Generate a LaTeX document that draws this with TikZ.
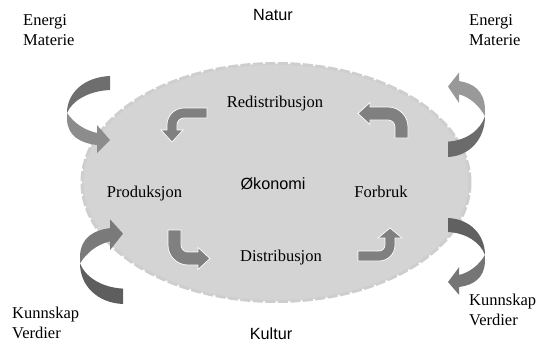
\documentclass[tikz,border=0pt]{standalone}
\usepackage{fontspec}
\setmainfont{Liberation Serif}
\newfontfamily\sansf{Liberation Sans}
\definecolor{ellfill}{RGB}{212,212,212}
\definecolor{elldraw}{RGB}{206,206,206}
\definecolor{smallfill}{RGB}{128,128,128}
\newcommand\bentarr[6]{% a w b hl h R
  \filldraw[smallarr] ({-#1},0) -- ({-#6},0)
    .. controls ({-0.448*#6},0) and (0,{0.448*#6}) .. (0,{#6})
    -- (0,{#3}) -- ({-#2/2+#5},{#3}) -- ({-#2/2},{#3+#4}) -- ({-#2/2-#5},{#3})
    -- ({-#2},{#3}) -- ({-#2},{#6})
    .. controls ({-#2},{#6-0.552*(#6-#2)}) and ({-#6+0.552*(#6-#2)},{#2}) .. ({-#6},{#2})
    -- ({-#1},{#2}) -- cycle;}
\newcommand\bigarr[2]{% tail colour, head colour
  \fill[#1] (0,0) .. controls (-26,1) and (-43,17) .. (-43,37)
    .. controls (-38,25) and (-22,15) .. (0,14) -- cycle;
  \fill[#2] (-43,37) .. controls (-36,47) and (-26,54) .. (-13,57)
    -- (-13,49) -- (0,64) -- (-13,77) -- (-13,69)
    .. controls (-30,67) and (-42,60) .. (-43,44) -- cycle;}
\tikzset{
  smallarr/.style={fill=smallfill, draw=white, line width=0.7pt, line join=miter},
  serif/.style={font=\fontsize{16.5}{19.5}\selectfont, inner sep=0pt},
  sanslab/.style={font=\sansf\fontsize{16.2}{19}\selectfont, inner sep=0pt},
  multi/.style={serif, align=left, anchor=base west}
}
\begin{document}
\begin{tikzpicture}[x=1pt,y=-1pt]
\useasboundingbox (0,0) rectangle (539,359);
% ellipse
\draw[fill=ellfill, draw=elldraw, line width=3pt, dash pattern=on 10pt off 2.5pt]
  (276,182.5) ellipse [x radius=194pt, y radius=119pt];
% big curved arrows
\begin{scope}[shift={(110,76)}]\bigarr{black!57}{black!45}\end{scope}
\begin{scope}[shift={(448,157)}]\begin{scope}[xscale=-0.86,yscale=-1.1]\bigarr{black!58}{black!40}\end{scope}\end{scope}
\begin{scope}[shift={(123,304)}]\begin{scope}[yscale=-1.1]\bigarr{black!63}{black!52}\end{scope}\end{scope}
\begin{scope}[shift={(448,218)}]\begin{scope}[xscale=-0.86]\bigarr{black!62}{black!54}\end{scope}\end{scope}
% small bent arrows
\begin{scope}[shift={(167,108)}]\begin{scope}[xscale=-1]\bentarr{40}{10}{22}{12}{11}{17}\end{scope}\end{scope}
\begin{scope}[shift={(408,107)}]\begin{scope}[cm={0,1,1,0,(0,0)}]\bentarr{31}{13}{38}{12}{11}{20}\end{scope}\end{scope}
\begin{scope}[shift={(168,265)}]\begin{scope}[cm={0,-1,-1,0,(0,0)}]\bentarr{35}{13}{30}{12}{11}{20}\end{scope}\end{scope}
\begin{scope}[shift={(395,261)}]\begin{scope}[yscale=-1]\bentarr{37}{10}{23}{10}{12}{16}\end{scope}\end{scope}
% labels
\node[sanslab, anchor=base] (natur) at (273,20) {Natur};
\node[sanslab, anchor=base] (kultur) at (271,339) {Kultur};
\node[sanslab, anchor=base] (okonomi) at (273,189) {Økonomi};
\node[serif, anchor=base] (redis) at (275,107) {Redistribusjon};
\node[serif, anchor=base] (prod) at (144.5,197) {Produksjon};
\node[serif, anchor=base] (forb) at (381,197) {Forbruk};
\node[serif, anchor=base] (dist) at (281,261) {Distribusjon};
\node[multi] (emtl) at (23,45) {Energi\\Materie};
\node[multi] (emtr) at (469,45) {Energi\\Materie};
\node[multi] (kvbl) at (12,338) {Kunnskap\\Verdier};
\node[multi] (kvbr) at (469,325) {Kunnskap\\Verdier};
\end{tikzpicture}
\end{document}
